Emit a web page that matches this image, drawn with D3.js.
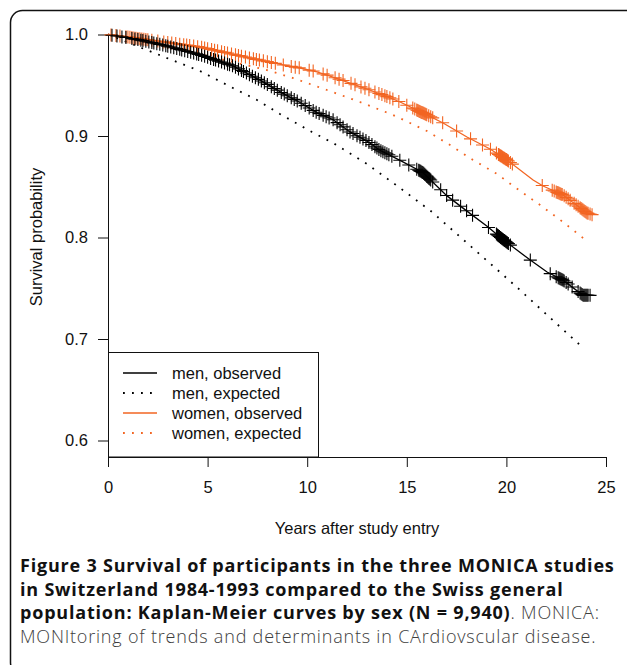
<!DOCTYPE html>
<html>
<head>
<meta charset="utf-8">
<script src="https://cdn.jsdelivr.net/npm/d3@7"></script>
<style>
  body { margin: 0; background: #fff; }
  svg text { font-family: "Liberation Sans", Arial, sans-serif; }
</style>
</head>
<body>
<div id="chart"></div>
<script>
////////////////////////////////////////////////////////////////////////
// Data (years after entry, survival probability)

let menObsTime = [0, 1.61, 2.96, 4.62, 6.27, 7.63, 8.78, 9.64, 10.49, 11.30, 12.15, 13.0, 13.65, 14.66, 15.81, 17.02, 18.02, 19.03, 19.83, 21.18, 22.04, 22.84, 23.85, 24.2];
let menObsSurv = [1.0, 0.9946, 0.9887, 0.980, 0.969, 0.955, 0.942, 0.933, 0.923, 0.916, 0.904, 0.895, 0.886, 0.876, 0.864, 0.841, 0.826, 0.811, 0.798, 0.778, 0.766, 0.758, 0.743, 0.743];

let menExpTime = [0, 2.96, 4.62, 6.27, 7.48, 8.63, 10.24, 11.30, 13.0, 14.66, 16.27, 18.02, 19.33, 20.68, 22.04, 23.69];
let menExpSurv = [1.0, 0.9768, 0.9640, 0.9473, 0.9355, 0.9217, 0.9039, 0.8931, 0.8724, 0.8488, 0.8251, 0.7946, 0.7719, 0.7483, 0.7237, 0.6941];

let womenObsTime = [0, 2.11, 4.62, 7.13, 8.79, 9.64, 10.49, 11.30, 12.15, 13.0, 13.80, 14.66, 15.81, 16.82, 18.02, 19.18, 20.03, 21.34, 21.84, 22.84, 24.05, 24.35];
let womenObsSurv = [1.0, 0.9946, 0.9877, 0.9768, 0.9700, 0.9670, 0.9631, 0.9581, 0.9522, 0.9463, 0.9404, 0.9335, 0.9227, 0.9128, 0.8990, 0.8872, 0.8764, 0.8567, 0.8507, 0.8419, 0.8241, 0.8222];

let womenExpTime = [0, 3.11, 6.27, 7.98, 9.29, 10.99, 12.65, 14.31, 16.01, 17.17, 18.32, 19.53, 20.28, 21.69, 22.84, 23.85];
let womenExpSurv = [1.0, 0.9877, 0.9729, 0.9650, 0.9571, 0.9453, 0.9335, 0.9207, 0.9049, 0.8911, 0.8764, 0.8626, 0.8517, 0.8320, 0.8153, 0.7995];

// censoring times (the "+" marks)
let menCensor = [0.2, 0.45, 0.7, 0.9, 1.2, 1.35, 1.5, 1.65, 1.75, 1.9, 2.05, 2.2, 2.3, 2.45, 2.6, 2.75, 2.9, 3.0, 3.15, 3.3, 3.45, 3.6, 3.7, 3.85, 4.0, 4.15, 4.3, 4.45, 4.55, 4.7, 4.85, 5.0, 5.15, 5.3, 5.4, 5.55, 5.7, 5.85, 6.0, 6.1, 6.25, 6.4, 6.55, 6.7, 6.8, 6.95, 7.1, 7.25, 7.4, 7.55, 7.7, 7.85, 8.0, 8.2, 8.35, 8.5, 8.7, 8.85, 9.0, 9.2, 9.35, 9.5, 9.7, 9.9, 10.1, 10.3, 10.45, 10.6, 10.8, 10.95, 11.1, 11.3, 11.5, 11.65, 11.8, 12.0, 12.15, 12.3, 12.5, 12.65, 12.8, 12.95, 13.1, 13.25, 13.4, 13.5, 13.6, 13.7, 13.8, 13.9, 14.0, 14.1, 14.25, 14.65, 15.1, 15.5, 15.6, 15.65, 15.7, 15.75, 15.8, 15.85, 15.9, 15.95, 16.0, 16.05, 16.1, 16.15, 16.2, 16.3, 16.7, 17.0, 17.3, 17.7, 18.0, 18.3, 19.1, 19.5, 19.55, 19.6, 19.65, 19.7, 19.75, 19.8, 19.85, 19.9, 19.95, 20.0, 20.05, 20.1, 20.2, 21.2, 22.2, 22.5, 22.6, 22.65, 22.7, 22.75, 22.8, 22.85, 22.9, 23.0, 23.1, 23.3, 23.6, 23.7, 23.75, 23.8, 23.85, 23.9, 23.95, 24.0, 24.05, 24.1, 24.2];
let womenCensor = [0.15, 0.4, 0.6, 0.9, 1.0, 1.1, 1.2, 1.3, 1.4, 1.5, 1.6, 1.7, 1.8, 1.9, 2.0, 2.2, 2.5, 2.8, 3.0, 3.2, 3.4, 3.6, 3.8, 3.95, 4.1, 4.3, 4.5, 4.7, 4.85, 5.0, 5.2, 5.35, 5.5, 5.7, 5.85, 6.0, 6.2, 6.4, 6.55, 6.7, 6.9, 7.1, 7.3, 7.45, 7.6, 7.8, 8.0, 8.2, 8.4, 8.8, 9.2, 9.4, 9.6, 10.1, 10.3, 10.8, 11.0, 11.4, 11.6, 11.8, 12.2, 12.4, 12.7, 12.9, 13.1, 13.4, 13.6, 13.75, 13.9, 14.0, 14.15, 14.3, 14.6, 15.0, 15.3, 15.4, 15.5, 15.55, 15.6, 15.65, 15.7, 15.75, 15.8, 15.85, 15.9, 15.95, 16.0, 16.1, 16.2, 16.3, 16.8, 17.5, 18.2, 18.8, 19.2, 19.5, 19.6, 19.65, 19.7, 19.75, 19.8, 19.85, 19.9, 19.95, 20.0, 20.05, 20.1, 20.2, 20.3, 21.8, 22.3, 22.4, 22.5, 22.55, 22.6, 22.65, 22.7, 22.75, 22.8, 22.9, 23.0, 23.1, 23.2, 23.4, 23.5, 23.6, 23.7, 23.75, 23.8, 23.85, 23.9, 23.95, 24.0, 24.05, 24.1, 24.2, 24.3];

let xTicks = [0, 5, 10, 15, 20, 25];
let yTicks = [0.6, 0.7, 0.8, 0.9, 1.0];

let legendLabels = ["men, observed", "men, expected", "women, observed", "women, expected"];

////////////////////////////////////////////////////////////////////////
// svg and scales

let width = 627;
let height = 665;
let black = "#000";
let orange = "#f26522";

let svg = d3.select("#chart")
  .append("svg")
  .attr("width", width).attr("height", height);

// rounded frame around the figure (its bottom edge falls just off the page)
svg.append("rect")
  .attr("x", 10.5).attr("y", 10.5)
  .attr("width", 630).attr("height", 664)
  .attr("rx", 12)
  .attr("fill", "none")
  .attr("stroke", "#111")
  .attr("stroke-width", 1.5);

let xScale = d3.scaleLinear().domain([0, 25]).range([108, 606]);
let yScale = d3.scaleLinear().domain([0.6, 1.0]).range([440.5, 34.5]);

////////////////////////////////////////////////////////////////////////
// axes

let xAxis = svg.append("g")
  .attr("transform", "translate(0,457)")
  .call(d3.axisBottom(xScale).tickValues(xTicks).tickSize(10).tickSizeOuter(0).tickPadding(14));

let yAxis = svg.append("g")
  .attr("transform", "translate(108,0)")
  .call(d3.axisLeft(yScale).tickValues(yTicks).tickFormat(d3.format(".1f")).tickSize(10).tickSizeOuter(0).tickPadding(10));

[xAxis, yAxis].forEach(function(a) {
  a.selectAll("text")
    .style("font-family", "'Liberation Sans', Arial, sans-serif")
    .style("font-size", "16.5px")
    .attr("fill", "#111");
  a.selectAll("line, path").attr("stroke", "#111").attr("stroke-width", 1);
});

svg.append("text")
  .attr("x", 357).attr("y", 534)
  .attr("text-anchor", "middle")
  .style("font-size", "16.5px")
  .attr("fill", "#111")
  .text("Years after study entry");

svg.append("text")
  .attr("transform", "translate(42,237) rotate(-90)")
  .attr("text-anchor", "middle")
  .style("font-size", "16.5px")
  .attr("fill", "#111")
  .text("Survival probability");

////////////////////////////////////////////////////////////////////////
// curves

function pairs(ts, ss) {
  return ts.map(function(t, i) { return [t, ss[i]]; });
}

let line = d3.line()
  .x(function(d) { return xScale(d[0]); })
  .y(function(d) { return yScale(d[1]); });

let curves = [
  { pts: pairs(menExpTime, menExpSurv), color: black, dotted: true },
  { pts: pairs(womenExpTime, womenExpSurv), color: orange, dotted: true },
  { pts: pairs(menObsTime, menObsSurv), color: black, dotted: false },
  { pts: pairs(womenObsTime, womenObsSurv), color: orange, dotted: false }
];

svg.append("g")
  .selectAll(".curve")
  .data(curves)
  .enter()
  .append("path")
  .attr("class", "curve")
  .attr("d", function(d) { return line(d.pts); })
  .attr("fill", "none")
  .attr("stroke", function(d) { return d.color; })
  .attr("stroke-width", function(d) { return d.dotted ? 1.8 : 1.3; })
  .attr("stroke-dasharray", function(d) { return d.dotted ? "1.8,7.2" : null; });

// censoring marks sit on the observed curve
let menAt = d3.scaleLinear().domain(menObsTime).range(menObsSurv);
let womenAt = d3.scaleLinear().domain(womenObsTime).range(womenObsSurv);

function addCensor(times, at, color) {
  svg.append("g")
    .selectAll("path")
    .data(times)
    .enter()
    .append("path")
    .attr("transform", function(t) { return "translate(" + xScale(t) + "," + yScale(at(t)) + ")"; })
    .attr("d", "M-6.5,0H6.5M0,-6.5V6.5")
    .attr("stroke", color)
    .attr("stroke-width", 1.1)
    .attr("fill", "none");
}
addCensor(womenCensor, womenAt, orange);
addCensor(menCensor, menAt, black);

////////////////////////////////////////////////////////////////////////
// legend

let legend = svg.append("g");
legend.append("rect")
  .attr("x", 108.5).attr("y", 352.5)
  .attr("width", 210).attr("height", 104.5)
  .attr("fill", "#fff")
  .attr("stroke", "#111")
  .attr("stroke-width", 1);

let legendStyle = [
  { color: black, dotted: false },
  { color: black, dotted: true },
  { color: orange, dotted: false },
  { color: orange, dotted: true }
];

legend.selectAll(".lg")
  .data(legendLabels)
  .enter()
  .append("g")
  .attr("class", "lg")
  .attr("transform", function(d, i) { return "translate(0," + (373 + i * 20) + ")"; })
  .each(function(d, i) {
    let g = d3.select(this);
    g.append("line")
      .attr("x1", 123).attr("x2", 157)
      .attr("stroke", legendStyle[i].color)
      .attr("stroke-width", legendStyle[i].dotted ? 1.8 : 1.3)
      .attr("stroke-dasharray", legendStyle[i].dotted ? "1.8,7.2" : null);
    g.append("text")
      .attr("x", 172).attr("y", 6)
      .style("font-size", "16.5px")
      .attr("fill", "#111")
      .text(d);
  });

////////////////////////////////////////////////////////////////////////
// caption

let captionLines = [
  [["Figure 3 Survival of participants in the three MONICA studies", true]],
  [["in Switzerland 1984-1993 compared to the Swiss general", true]],
  [["population: Kaplan-Meier curves by sex (N = 9,940)", true], [". MONICA:", false]],
  [["MONItoring of trends and determinants in CArdiovscular disease.", false]]
];

captionLines.forEach(function(parts, i) {
  let t = svg.append("text")
    .attr("x", 20).attr("y", 572 + i * 23.5)
    .style("font-family", "'Open Sans', sans-serif")
    .style("font-size", "18px")
    .style("letter-spacing", "0.8px");
  parts.forEach(function(p) {
    t.append("tspan")
      .style("font-family", "'Open Sans', sans-serif")
      .style("font-weight", p[1] ? "700" : "300")
      .attr("fill", p[1] ? "#111" : "#3d3d3d")
      .text(p[0]);
  });
});
</script>
</body>
</html>
